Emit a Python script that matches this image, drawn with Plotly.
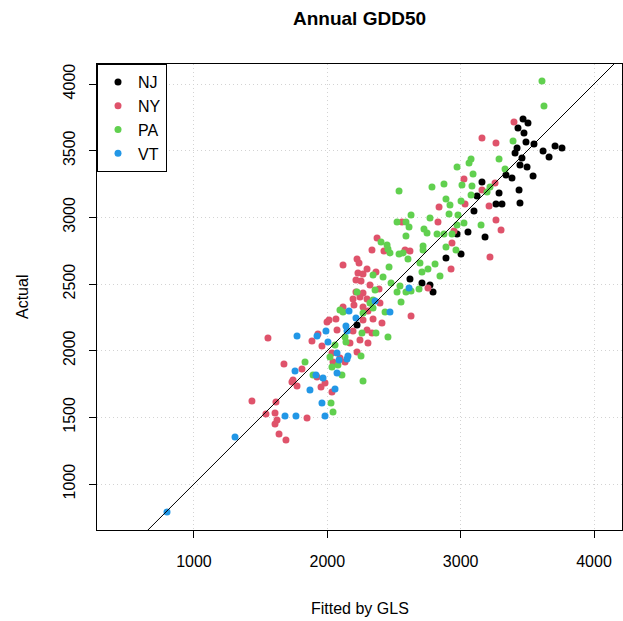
import plotly.graph_objects as go

# ---- data (Fitted by GLS, Actual) ----
nj_fit = [3468, 3505, 3430, 3475, 3490, 3550, 3423, 3408, 3460, 3618, 3663, 3708, 3760,
          3445, 3498, 3543, 3340, 3385, 3438, 3445, 3288, 3265, 3310, 3160, 3123, 3100,
          3055, 2973, 3183, 3003, 2890, 2620, 2710, 2770, 2793, 2223]
nj_act = [3738, 3708, 3670, 3633, 3565, 3550, 3520, 3483, 3445, 3498, 3453, 3535, 3520,
          3393, 3378, 3310, 3318, 3295, 3205, 3108, 3183, 3100, 3100, 3265, 3160, 3048,
          2890, 2875, 2853, 2725, 2695, 2538, 2508, 2493, 2440, 2193]

ny_fit = [3400, 3160, 3265, 3025, 2838, 2830, 3033, 3160, 3213, 3265, 3303, 2950, 2935,
          3258, 3220, 2560, 2373, 2335, 2425, 2583, 2620, 2223, 2928, 2755, 2628, 1555,
          1998, 2013, 2073, 1930, 1885, 1960, 2035, 2118, 2238, 2298, 2230, 2268, 2365,
          2215, 2253, 2320, 2388, 2215, 2268, 2245, 2298, 2193, 2200, 2268, 2118, 2305,
          2395, 2343, 2268, 2410, 2065, 2193, 2298, 2335, 2245, 2170, 2223, 2305, 1435,
          1615, 1540, 1608, 1623, 1608, 1638, 1690, 1675, 1810, 1743, 1735, 1773, 1953,
          1983, 1923, 1848, 2043, 2095, 2133, 2035]
ny_act = [3715, 3595, 3558, 3288, 3078, 2965, 3100, 3205, 3085, 2980, 2905, 2898, 2808,
          3258, 2703, 2965, 2845, 2755, 2748, 2755, 2748, 2688, 2613, 2470, 2260, 2095,
          2215, 2230, 2155, 2125, 2073, 2035, 1983, 2643, 2658, 2613, 2583, 2575, 2590,
          2530, 2523, 2493, 2463, 2440, 2433, 2403, 2388, 2388, 2343, 2328, 2328, 2298,
          2358, 2238, 2230, 2208, 2238, 2148, 2155, 2133, 2080, 2058, 1990, 2058, 1623,
          1615, 1525, 1533, 1480, 1450, 1375, 1330, 1900, 1863, 1780, 1765, 1735, 1728,
          1758, 1803, 1495, 1915, 1945, 1915, 1690]

pa_fit = [3610, 3625, 3393, 3078, 3288, 2973, 3063, 2785, 2875, 3010, 3093, 3085, 3078,
          3003, 2890, 2920, 2770, 2913, 2980, 3025, 2973, 3153, 2748, 2823, 2875, 2935,
          2890, 2965, 3333, 3220, 3198, 2538, 2628, 2523, 2590, 2613, 2725, 2590, 2403,
          2448, 2455, 2470, 2538, 2568, 2718, 2718, 2605, 2695, 2808, 2710, 2755, 2845,
          2628, 2688, 2463, 2343, 2418, 2478, 2545, 2523, 2590, 2553, 2223, 2358, 2343,
          2320, 2343, 2433, 2118, 2095, 2268, 2365, 2455, 2260, 2133, 2140, 2253, 2020,
          2058, 1833, 2035, 2080, 2110, 1893, 2028, 2043, 2268]
pa_act = [4023, 3835, 3573, 3438, 3438, 3378, 3408, 3228, 3250, 3243, 3325, 3235, 3168,
          3123, 3138, 3093, 2995, 3025, 3018, 2958, 2943, 2943, 2883, 2875, 2875, 2875,
          2778, 2755, 3363, 3228, 3190, 3198, 3018, 2965, 2965, 2928, 2913, 2860, 2815,
          2793, 2763, 2733, 2725, 2733, 2785, 2755, 2688, 2658, 2650, 2590, 2613, 2560,
          2448, 2463, 2628, 2568, 2553, 2508, 2485, 2440, 2440, 2365, 2440, 2455, 2380,
          2358, 2320, 2290, 2290, 2305, 2283, 2133, 2103, 2133, 2103, 2065, 1960, 1953,
          2043, 1915, 1878, 1893, 1818, 1818, 1608, 1540, 1773]

vt_fit = [798, 1308, 1683, 1765, 1983, 1960, 1870, 2058, 1758, 1915, 1968, 2073, 2148,
          2088, 1773, 1990, 1923, 2005, 2163, 2358, 2470, 2215, 2140, 2148, 2155, 2073, 2613]
vt_act = [790, 1353, 1510, 1510, 1510, 1608, 1705, 1713, 1848, 1818, 1795, 1833, 1938,
          1930, 2110, 2148, 2110, 2065, 2298, 2373, 2290, 2245, 2185, 2148, 1960, 1983, 2470]

states = ["NJ", "NY", "PA", "VT"]
colors = ["#000000", "#DF536B", "#61D04F", "#2297E6"]
series = [(nj_fit, nj_act), (ny_fit, ny_act), (pa_fit, pa_act), (vt_fit, vt_act)]

x_ticks = [1000, 2000, 3000, 4000]
y_ticks = [1000, 1500, 2000, 2500, 3000, 3500, 4000]
x_range = [273, 4210]
y_range = [655, 4150]

FONT = "Liberation Sans, Arial, Helvetica, sans-serif"

fig = go.Figure()
for name, col, (fx, ay) in zip(states, colors, series):
    fig.add_trace(go.Scatter(x=fx, y=ay, mode="markers", name=name,
                             marker=dict(color=col, size=7, line=dict(width=0))))

# 1:1 line
fig.add_trace(go.Scatter(x=[0, 5000], y=[0, 5000], mode="lines",
                         line=dict(color="black", width=1), showlegend=False,
                         hoverinfo="skip"))

axis_common = dict(showline=True, linecolor="black", linewidth=1, mirror=True,
                   ticks="outside", ticklen=7, tickcolor="black",
                   showgrid=True, gridcolor="#D3D3D3", griddash="1px,3px", gridwidth=1,
                   zeroline=False, tickfont=dict(family=FONT, size=16, color="black"))

fig.update_layout(
    width=623, height=621,
    margin=dict(l=97, r=1, t=64, b=91),
    paper_bgcolor="white", plot_bgcolor="white",
    font=dict(family=FONT, size=16, color="black"),
    showlegend=True,
    legend=dict(x=0, y=1, xanchor="left", yanchor="top",
                bordercolor="black", borderwidth=1, bgcolor="white",
                font=dict(family=FONT, size=16, color="black"),
                itemwidth=30, tracegroupgap=0),
    xaxis=dict(range=x_range, tickvals=x_ticks, ticklabelstandoff=10, **axis_common),
    yaxis=dict(range=y_range, tickvals=y_ticks, tickangle=-90, ticklabelstandoff=8,
               **axis_common),
    annotations=[
        dict(text="<b>Annual GDD50</b>", xref="paper", yref="paper", x=0.5, y=1,
             yshift=46, showarrow=False, font=dict(family=FONT, size=19, color="black"),
             xanchor="center", yanchor="middle"),
        dict(text="Fitted by GLS", xref="paper", yref="paper", x=0.5, y=0,
             yshift=-78, showarrow=False, font=dict(family=FONT, size=16, color="black"),
             xanchor="center", yanchor="middle"),
        dict(text="Actual", xref="paper", yref="paper", x=0, y=0.5, xshift=-75,
             textangle=-90, showarrow=False,
             font=dict(family=FONT, size=16, color="black"),
             xanchor="center", yanchor="middle"),
    ],
)

fig.write_html("out.html", config={"displayModeBar": False},
               post_script="document.body.style.margin='0';document.body.style.padding='0';"
                           "document.body.style.overflow='hidden';")
